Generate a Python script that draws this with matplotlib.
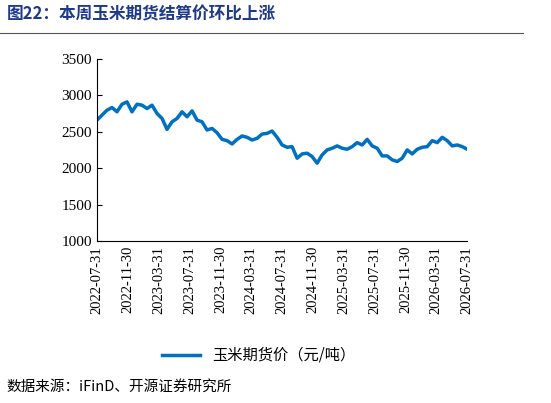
import numpy as np
import pandas as pd
import matplotlib
matplotlib.use("Agg")
import matplotlib.pyplot as plt
import matplotlib.dates as mdates

plt.rcParams['font.family'] = ['Noto Sans CJK SC', 'DejaVu Sans']

# values, evenly spaced over the date range
prices = [2659, 2727, 2795, 2832, 2773, 2877, 2909, 2773, 2877, 2864, 2818, 2864,
          2750, 2682, 2532, 2636, 2682, 2773, 2705, 2786, 2659, 2636, 2523, 2545,
          2486, 2395, 2377, 2332, 2395, 2441, 2423, 2386, 2409, 2468, 2477, 2509,
          2423, 2318, 2286, 2295, 2136, 2195, 2205, 2159, 2068, 2182, 2250, 2273,
          2305, 2273, 2259, 2295, 2350, 2318, 2395, 2305, 2273, 2168, 2168, 2114,
          2091, 2136, 2250, 2195, 2259, 2286, 2295, 2377, 2350, 2423, 2377, 2305,
          2318, 2295, 2259]
start = pd.Timestamp('2022-07-31')
end = pd.Timestamp('2026-07-31')
dates = pd.date_range(start, end, periods=len(prices))
tick_dates = pd.date_range('2022-07-31', '2026-07-31', freq='4ME')

fig = plt.figure(figsize=(5.51, 4.03), dpi=100)
ax = fig.add_axes([0.176, 0.402, 0.672, 0.452])
ax.plot(dates, prices, color='#0070C0', lw=2.5, label='玉米期货价（元/吨）')
ax.set_ylim(1000, 3500)
ax.set_yticks(range(1000, 3501, 500))
ax.set_xlim(start, end)
ax.set_xticks(tick_dates)
ax.xaxis.set_major_formatter(mdates.DateFormatter('%Y-%m-%d'))
for s in ['top', 'right']:
    ax.spines[s].set_visible(False)
ax.tick_params(axis='x', rotation=90, labelsize=10.5, length=0)
ax.tick_params(axis='y', labelsize=11, direction='in')
for lab in ax.get_xticklabels() + ax.get_yticklabels():
    lab.set_family(['Times New Roman', 'Liberation Serif', 'DejaVu Serif'])

fig.legend(loc='center', bbox_to_anchor=(0.47, 0.118), frameon=False, fontsize=11,
           handlelength=2.5)
fig.text(0.012, 0.965, '图22：本周玉米期货结算价环比上涨', color='#1F3A8A',
         fontsize=12, fontweight='bold', va='center')
fig.add_artist(plt.Line2D([0.0, 0.95], [0.918, 0.918], color='#555555', lw=0.8))
fig.text(0.012, 0.04, '数据来源：iFinD、开源证券研究所', fontsize=10.5, va='center')

fig.savefig('out.png', dpi=100)
